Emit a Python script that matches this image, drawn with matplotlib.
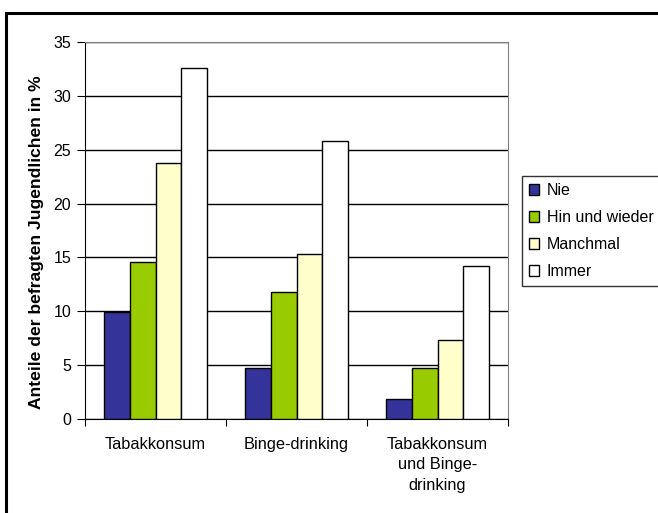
import numpy as np
import matplotlib
matplotlib.use("Agg")
import matplotlib.pyplot as plt
from matplotlib.patches import Rectangle

plt.rcParams['font.family'] = ['Liberation Sans', 'DejaVu Sans']

# Daten
categories = ["Tabakkonsum", "Binge-drinking", "Tabakkonsum\nund Binge-\ndrinking"]
series = ["Nie", "Hin und wieder", "Manchmal", "Immer"]
nie = [9.9, 4.7, 1.9]
hin_und_wieder = [14.6, 11.8, 4.7]
manchmal = [23.8, 15.3, 7.3]
immer = [32.6, 25.8, 14.2]
colors = ["#333399", "#99CC00", "#FFFFCC", "#FFFFFF"]
yticks = [0, 5, 10, 15, 20, 25, 30, 35]

W, H = 658, 513
fig = plt.figure(figsize=(W / 100, H / 100), dpi=100)

# Aussenrahmen
fig.patches.append(Rectangle((6 / W, -0.1), 1.2, 1 - 13 / H + 0.1,
                             transform=fig.transFigure, fill=False,
                             edgecolor="black", linewidth=2.2))

ax = fig.add_axes([85 / W, 1 - 419 / H, (508 - 85) / W, (419 - 42) / H])

bw = 1 / 5.5
x = np.arange(len(categories))
values = [nie, hin_und_wieder, manchmal, immer]
bars = []
for i, (vals, c) in enumerate(zip(values, colors)):
    b = ax.bar(x + (i - 1.5) * bw, vals, width=bw, color=c,
               edgecolor="black", linewidth=1.0, label=series[i], zorder=3)
    bars.append(b)

ax.set_xlim(-0.5, 2.5)
ax.set_ylim(0, 35)
ax.set_yticks(yticks)
ax.yaxis.grid(True, color="black", linewidth=1.0, zorder=0)
ax.set_axisbelow(True)

ax.set_xticks([-0.5, 0.5, 1.5, 2.5])
ax.set_xticklabels([])
ax.set_xticks(x, minor=True)
ax.set_xticklabels(categories, minor=True, fontsize=11.8, linespacing=1.45)
ax.tick_params(axis="x", which="minor", length=0, pad=13)
ax.tick_params(axis="x", which="major", length=5, direction="out")
ax.tick_params(axis="y", length=6, direction="out", labelsize=11.5, pad=4)

for s in ["top", "right"]:
    ax.spines[s].set_color("#808080")
for s in ["left", "bottom"]:
    ax.spines[s].set_color("black")

ax.set_ylabel("Anteile der befragten Jugendlichen in %", fontsize=12.6,
              fontweight="bold", labelpad=7, y=0.468)

leg = fig.legend(handles=bars, labels=series, loc="upper left",
                 bbox_to_anchor=(522 / W, 1 - 176 / H), fontsize=11.5,
                 frameon=True, fancybox=False, edgecolor="black",
                 handlelength=0.6, handleheight=0.6, handletextpad=0.5,
                 labelspacing=0.75, borderpad=0.45, borderaxespad=0)
leg.get_frame().set_linewidth(1.0)

fig.savefig("out.png", dpi=100)
